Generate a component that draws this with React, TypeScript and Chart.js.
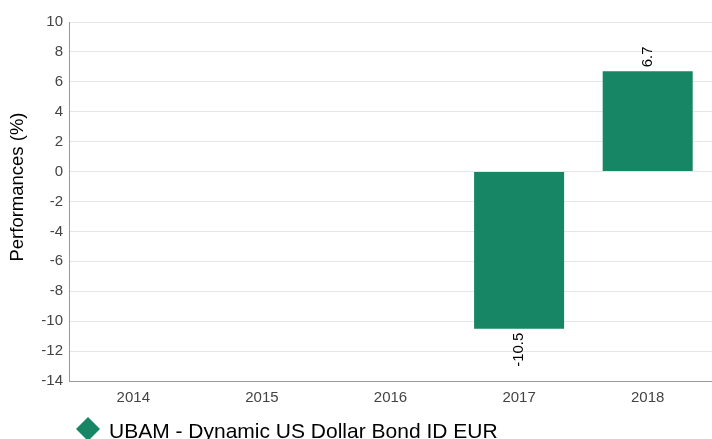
import React, { useEffect, useRef } from "react";
import { Chart, registerables } from "chart.js";

Chart.register(...registerables);

const categories = ["2014", "2015", "2016", "2017", "2018"];
const performances: (number | null)[] = [null, null, null, -10.5, 6.7];
const seriesName = "UBAM - Dynamic US Dollar Bond ID EUR";
const axisTitle = "Performances (%)";
const yMin = -14;
const yMax = 10;
const yStep = 2;
const barColor = "#168664";
const FONT = "'Liberation Sans', Arial, sans-serif";

const labelPlugin = {
  id: "valueLabels",
  afterDatasetsDraw(chart: any) {
    const ctx = chart.ctx;
    const meta = chart.getDatasetMeta(0);
    ctx.save();
    ctx.font = `15px ${FONT}`;
    ctx.fillStyle = "#000";
    meta.data.forEach((bar: any, i: number) => {
      const v = performances[i];
      if (v === null || v === undefined) return;
      const txt = v.toFixed(1);
      ctx.save();
      ctx.translate(bar.x, bar.y);
      ctx.rotate(-Math.PI / 2);
      ctx.textBaseline = "middle";
      if (v >= 0) {
        ctx.textAlign = "left";
        ctx.fillText(txt, 4, 0);
      } else {
        ctx.textAlign = "right";
        ctx.fillText(txt, -4, 0);
      }
      ctx.restore();
    });
    ctx.restore();
  },
  afterDraw(chart: any) {
    const ctx = chart.ctx;
    ctx.save();
    // axis title
    ctx.save();
    ctx.translate(18, 187);
    ctx.rotate(-Math.PI / 2);
    ctx.fillStyle = "#000";
    ctx.font = `18.5px ${FONT}`;
    ctx.textAlign = "center";
    ctx.textBaseline = "middle";
    ctx.fillText(axisTitle, 0, 0);
    ctx.restore();
    // legend
    const cx = 88;
    const cy = 429;
    const r = 12;
    ctx.fillStyle = barColor;
    ctx.beginPath();
    ctx.moveTo(cx, cy - r);
    ctx.lineTo(cx + r, cy);
    ctx.lineTo(cx, cy + r);
    ctx.lineTo(cx - r, cy);
    ctx.closePath();
    ctx.fill();
    ctx.fillStyle = "#000";
    ctx.font = `21px ${FONT}`;
    ctx.textBaseline = "alphabetic";
    ctx.textAlign = "left";
    ctx.fillText(seriesName, 109, 438);
    ctx.restore();
  },
};

export default function App() {
  const ref = useRef<HTMLCanvasElement>(null);
  useEffect(() => {
    document.body.style.margin = "0";
    const chart = new Chart(ref.current!, {
      type: "bar",
      data: {
        labels: categories,
        datasets: [
          {
            label: seriesName,
            data: performances,
            backgroundColor: barColor,
            borderWidth: 0,
            categoryPercentage: 0.7,
            barPercentage: 1,
          },
        ],
      },
      options: {
        animation: false,
        responsive: false,
        layout: { padding: { top: 22, right: 0, left: 0, bottom: 0 } },
        plugins: { legend: { display: false }, tooltip: { enabled: false } },
        scales: {
          x: {
            grid: { display: false },
            border: { color: "#999999" },
            ticks: {
              color: "#444444",
              font: { size: 15, family: FONT },
              padding: 0,
            },
            afterFit(scale: any) {
              scale.height = 58;
            },
          },
          y: {
            min: yMin,
            max: yMax,
            ticks: {
              stepSize: yStep,
              color: "#444444",
              font: { size: 15, family: FONT },
              padding: 6,
            },
            grid: { color: "#e6e6e6", drawTicks: false },
            border: { color: "#999999" },
            afterFit(scale: any) {
              scale.width = 69;
            },
          },
        },
      },
      plugins: [labelPlugin],
    });
    return () => chart.destroy();
  }, []);
  return <canvas ref={ref} width={712} height={439} style={{ display: "block" }} />;
}
